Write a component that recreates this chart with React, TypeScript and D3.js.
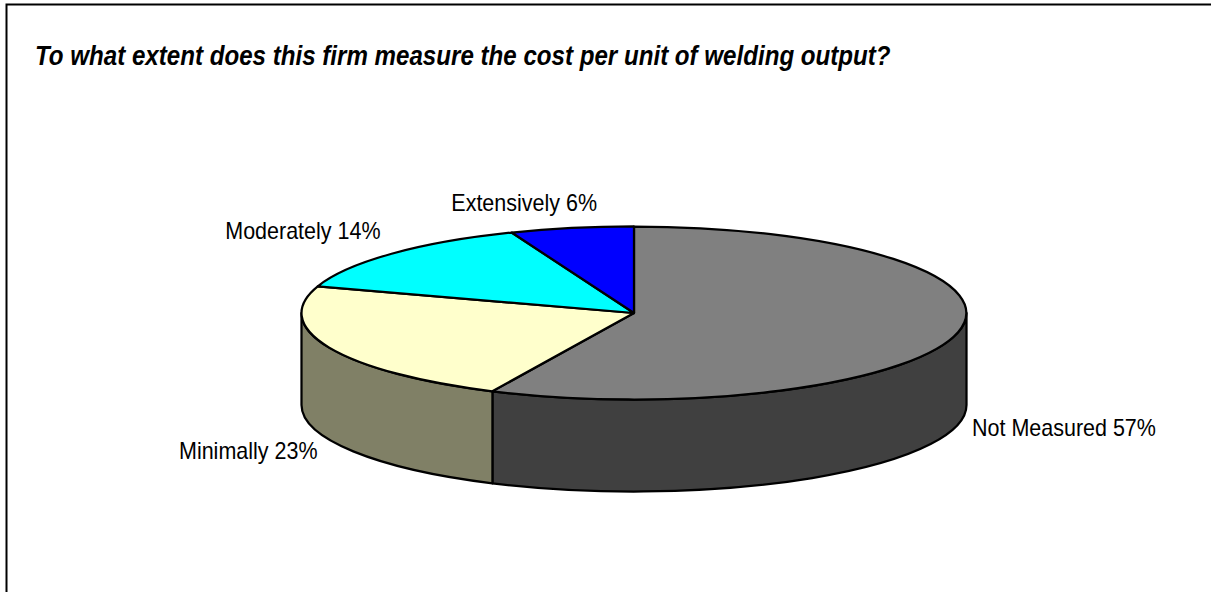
import React from "react";
import * as d3 from "d3";

const title = "To what extent does this firm measure the cost per unit of welding output?";
const categories = ["Not Measured", "Minimally", "Moderately", "Extensively"];
const values = [57, 23, 14, 6];
const topColors = ["#808080", "#FFFFCC", "#00FFFF", "#0000FF"];
const sideColors = ["#404040", "#808066", "#008080", "#000080"];
const labelX = [972, 317.5, 380.5, 597];
const labelY = [435.5, 458.5, 239, 211];
const labelAnchor = ["start", "end", "end", "end"];

const W = 1211;
const H = 592;
const cx = 634;
const cy = 313;
const rx = 332.5;
const ry = 86.5;
const depth = 92;

const FONT = "'Liberation Sans', Arial, sans-serif";
const LABEL_SIZE = 24;
const LABEL_SX = 21.5 / 24;
const TITLE_SIZE = 27;
const TITLE_SX = 24.14 / 27;
const STROKE = 2.25;

const px = (a: number) => cx + rx * Math.sin(a);
const py = (a: number) => cy - ry * Math.cos(a);

export default function App() {
  const arcs = d3.pie<number>().sort(null)(values);
  const unit = d3.arc<d3.PieArcDatum<number>>().innerRadius(0).outerRadius(1);

  const sidePath = (a0: number, a1: number) => {
    const s = Math.max(a0, Math.PI / 2);
    const e = Math.min(a1, 1.5 * Math.PI);
    if (e <= s) return null;
    return (
      `M${px(s)},${py(s)}` +
      `A${rx},${ry} 0 0 1 ${px(e)},${py(e)}` +
      `L${px(e)},${py(e) + depth}` +
      `A${rx},${ry} 0 0 0 ${px(s)},${py(s) + depth}Z`
    );
  };

  return (
    <svg
      width={W}
      height={H}
      style={{ position: "absolute", left: 0, top: 0, display: "block", background: "#fff" }}
    >
      <path d={`M6.5,${H}V4.5H${W}`} fill="none" stroke="#000" strokeWidth={2} />
      <text
        transform={`translate(35,65) scale(${TITLE_SX},1)`}
        fontFamily={FONT}
        fontSize={TITLE_SIZE}
        fontWeight="bold"
        fontStyle="italic"
        fill="#000"
      >
        {title}
      </text>
      {arcs.map((d, i) => {
        const p = sidePath(d.startAngle, d.endAngle);
        return p ? (
          <path key={i} d={p} fill={sideColors[i]} stroke="#000" strokeWidth={STROKE} strokeLinejoin="round" />
        ) : null;
      })}
      {arcs.map((d, i) => (
        <path
          key={i}
          d={unit(d) ?? ""}
          transform={`translate(${cx},${cy}) scale(${rx},${ry})`}
          fill={topColors[i]}
          stroke="#000"
          strokeWidth={STROKE}
          strokeLinejoin="round"
          vectorEffect="non-scaling-stroke"
        />
      ))}
      {categories.map((c, i) => (
        <text
          key={c}
          transform={`translate(${labelX[i]},${labelY[i]}) scale(${LABEL_SX},1)`}
          textAnchor={labelAnchor[i] as "start" | "end"}
          fontFamily={FONT}
          fontSize={LABEL_SIZE}
          fill="#000"
        >
          {`${c} ${values[i]}%`}
        </text>
      ))}
    </svg>
  );
}
